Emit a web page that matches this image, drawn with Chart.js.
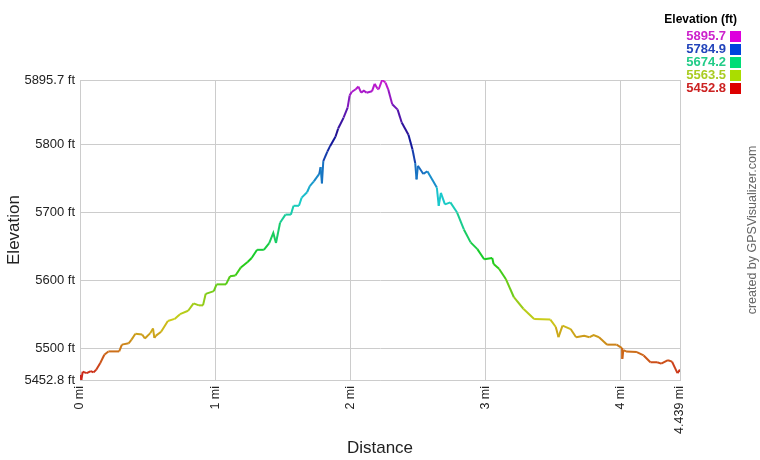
<!DOCTYPE html>
<html>
<head>
<meta charset="utf-8">
<script src="https://cdn.jsdelivr.net/npm/chart.js@4/dist/chart.umd.min.js"></script>
<style>
  body { margin: 0; background: #fff; }
  #wrap { position: relative; width: 760px; height: 460px; }
</style>
</head>
<body>
<div id="wrap"><canvas id="elevChart" width="760" height="460"></canvas></div>
<script>
// distance along the track (miles) and elevation (feet)
const distMi = [
  0, 0.01, 0.02, 0.05, 0.08, 0.1, 0.12, 0.15, 0.18, 0.21, 0.29, 0.31, 0.36, 0.38, 0.41,
  0.46, 0.48, 0.52, 0.54, 0.55, 0.56, 0.6, 0.65, 0.7, 0.74, 0.8, 0.84, 0.88, 0.91, 0.93,
  0.99, 1.01, 1.08, 1.11, 1.15, 1.19, 1.24, 1.27, 1.31, 1.36, 1.4, 1.43, 1.45, 1.48, 1.52,
  1.56, 1.58, 1.62, 1.64, 1.68, 1.7, 1.73, 1.77, 1.78, 1.79, 1.8, 1.83, 1.85, 1.89, 1.91,
  1.95, 1.98, 1.995, 2.01, 2.04, 2.06, 2.08, 2.1, 2.12, 2.16, 2.18, 2.2, 2.21, 2.235, 2.26,
  2.28, 2.31, 2.35, 2.38, 2.43, 2.46, 2.48, 2.49, 2.5, 2.54, 2.57, 2.64, 2.654, 2.67, 2.7,
  2.74, 2.79, 2.84, 2.89, 2.94, 2.99, 3.05, 3.06, 3.1, 3.15, 3.21, 3.28, 3.36, 3.48, 3.52,
  3.54, 3.57, 3.63, 3.67, 3.73, 3.77, 3.8, 3.84, 3.9, 3.97, 4.01, 4.012, 4.02, 4.04, 4.12,
  4.17, 4.22, 4.27, 4.3, 4.35, 4.38, 4.42, 4.439
];
const elevFt = [
  5460, 5452.8, 5465, 5463, 5466, 5464, 5468, 5478, 5490, 5495, 5495, 5505, 5507, 5512, 5521,
  5520, 5514, 5522, 5529, 5515, 5518, 5524, 5540, 5543, 5550, 5555, 5566, 5563, 5563, 5580,
  5584, 5594, 5594, 5606, 5607, 5619, 5627, 5633, 5645, 5645, 5655, 5670, 5655, 5685, 5697,
  5697, 5710, 5710, 5722, 5730, 5739, 5746, 5757, 5767, 5743, 5776, 5790, 5798, 5812, 5824,
  5840, 5855, 5873, 5878, 5882, 5886, 5877, 5880, 5877, 5879, 5890, 5883, 5882, 5895.7, 5892,
  5882, 5860, 5852, 5833, 5815, 5793, 5773, 5749, 5769, 5757, 5761, 5737, 5710, 5729, 5712,
  5715, 5700, 5675, 5656, 5646, 5631, 5633, 5624, 5617, 5602, 5575, 5558, 5543, 5542, 5531,
  5516, 5533, 5528, 5516, 5518, 5516, 5519, 5516, 5505, 5505, 5500, 5484, 5497, 5495, 5494,
  5489, 5479, 5479, 5477, 5482, 5480, 5463, 5468
];

const xTicks = [0, 1, 2, 3, 4, 4.439];
const yTicks = [5452.8, 5500, 5600, 5700, 5800, 5895.7];

// colour key shown top right
const legendValues = ["5895.7", "5784.9", "5674.2", "5563.5", "5452.8"];
const legendSwatch = ["#dd00dd", "#0044dd", "#00dd77", "#aadd00", "#dd0000"];
const legendText = ["#cc22cc", "#2244bb", "#22cc88", "#aacc22", "#cc2222"];

const minEl = 5452.8, maxEl = 5895.7;

function colorFor(e) {
  let t = (e - minEl) / (maxEl - minEl);
  t = Math.max(0, Math.min(1, t));
  let hue = t * 300;
  // blues read darker on the original profile
  let dark = Math.max(0, 1 - Math.abs(hue - 245) / 45);
  let light = 45 - 13 * dark;
  return "hsl(" + hue + ",78%," + light + "%)";
}

let points = distMi.map((d, i) => ({ x: d, y: elevFt[i] }));

const font = "Arial, 'Liberation Sans', sans-serif";

const sidePlugin = {
  id: "sideText",
  afterDraw(chart) {
    const ctx = chart.ctx;
    ctx.save();
    ctx.textAlign = "right";
    ctx.textBaseline = "middle";
    ctx.fillStyle = "#000";
    ctx.font = "bold 12px " + font;
    ctx.fillText("Elevation (ft)", 737, 20);
    ctx.font = "bold 13px " + font;
    for (let i = 0; i < legendValues.length; i++) {
      let y = 36 + i * 13;
      ctx.fillStyle = legendText[i];
      ctx.fillText(legendValues[i], 726, y);
      ctx.fillStyle = legendSwatch[i];
      ctx.fillRect(730, y - 5, 11, 11);
    }
    // credit line on the right edge
    ctx.translate(753, 230);
    ctx.rotate(-Math.PI / 2);
    ctx.textAlign = "center";
    ctx.fillStyle = "#666";
    ctx.font = "12.5px " + font;
    ctx.fillText("created by GPSVisualizer.com", 0, 0);
    ctx.restore();
  }
};

new Chart("elevChart", {
  type: "line",
  data: {
    datasets: [{
      data: points,
      borderWidth: 2,
      pointRadius: 0,
      tension: 0,
      segment: {
        borderColor: c => colorFor((c.p0.parsed.y + c.p1.parsed.y) / 2)
      }
    }]
  },
  options: {
    responsive: false,
    animation: false,
    layout: { padding: { top: 80, right: 80, left: 0, bottom: 0 } },
    plugins: { legend: { display: false }, tooltip: { enabled: false } },
    scales: {
      x: {
        type: "linear",
        min: 0,
        max: 4.439,
        afterBuildTicks: s => { s.ticks = xTicks.map(v => ({ value: v })); },
        afterFit: s => { s.height = 80; },
        grid: { color: "#cccccc", drawTicks: false },
        border: { color: "#cccccc" },
        ticks: {
          minRotation: 90,
          maxRotation: 90,
          padding: 6,
          color: "#222",
          font: { family: font, size: 12.5 },
          callback: v => v + " mi"
        },
        title: {
          display: true,
          text: "Distance",
          color: "#222",
          padding: { top: 4, bottom: 1 },
          font: { family: font, size: 17 }
        }
      },
      y: {
        min: minEl,
        max: maxEl,
        afterBuildTicks: s => { s.ticks = yTicks.map(v => ({ value: v })); },
        afterFit: s => { s.width = 80; },
        grid: { color: "#cccccc", drawTicks: false },
        border: { color: "#cccccc" },
        ticks: {
          padding: 5,
          color: "#222",
          font: { family: font, size: 13 },
          callback: v => v + " ft"
        },
        title: {
          display: true,
          text: "Elevation",
          color: "#222",
          font: { family: font, size: 17 }
        }
      }
    }
  },
  plugins: [sidePlugin]
});
</script>
</body>
</html>
